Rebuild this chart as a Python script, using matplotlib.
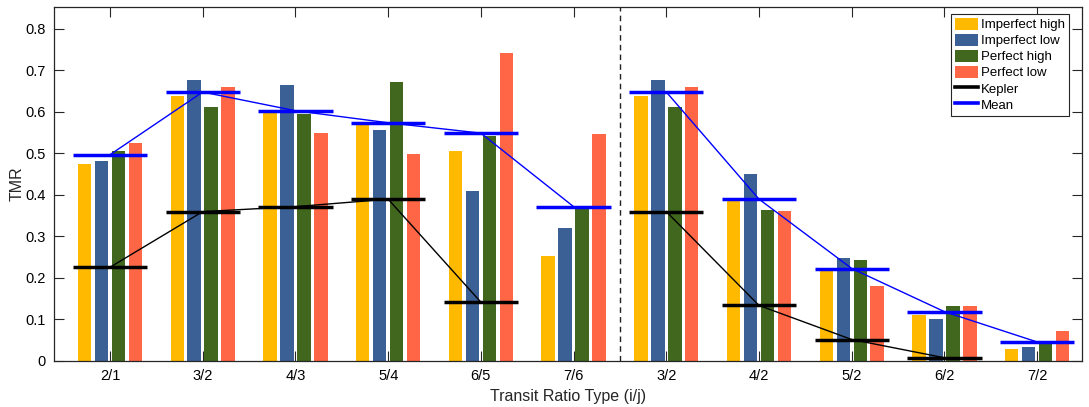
import numpy as np
import matplotlib
matplotlib.use("Agg")
from matplotlib import pyplot as plt
from matplotlib.patches import Patch
from matplotlib.lines import Line2D

plt.rcParams['font.family'] = ['Liberation Sans', 'DejaVu Sans']

# Data
ratio_labels = ['2/1', '3/2', '4/3', '5/4', '6/5', '7/6', '3/2', '4/2', '5/2', '6/2', '7/2']
imperfect_high = [0.473, 0.638, 0.598, 0.570, 0.504, 0.251, 0.638, 0.386, 0.217, 0.110, 0.027]
imperfect_low = [0.482, 0.676, 0.663, 0.555, 0.409, 0.320, 0.676, 0.449, 0.248, 0.101, 0.032]
perfect_high = [0.505, 0.612, 0.593, 0.670, 0.540, 0.370, 0.612, 0.363, 0.243, 0.131, 0.043]
perfect_low = [0.524, 0.659, 0.549, 0.498, 0.742, 0.545, 0.659, 0.361, 0.180, 0.132, 0.071]
mean_tmr = [0.496, 0.647, 0.602, 0.573, 0.548, 0.371, 0.647, 0.389, 0.222, 0.118, 0.045]
# Kepler values (None where no value is shown)
kepler_tmr = [0.225, 0.359, 0.371, 0.389, 0.141, None, 0.359, 0.133, 0.051, 0.007, None]

series_names = ['Imperfect high', 'Imperfect low', 'Perfect high', 'Perfect low']
series_colors = ['#FFBA00', '#3A6095', '#41661E', '#FF6645']

fig = plt.figure(figsize=(10.89, 4.07), dpi=100)
ax = fig.add_axes([0.0499, 0.1138, 0.9434, 0.8682])

x = np.arange(1, len(ratio_labels) + 1)
bar_pitch = 0.183
bar_width = 0.145
all_series = [imperfect_high, imperfect_low, perfect_high, perfect_low]
for j, (vals, col) in enumerate(zip(all_series, series_colors)):
    ax.bar(x + (j - 1.5) * bar_pitch, vals, width=bar_width, color=col,
           edgecolor='none', zorder=2)

# Mean and Kepler markers: short thick horizontal segments
seg_half = 0.4
mean_arr = np.array(mean_tmr)
ax.hlines(mean_arr, x - seg_half, x + seg_half, color='#0000FF', lw=2.5, zorder=4)
kx = np.array([xi for xi, k in zip(x, kepler_tmr) if k is not None])
ky = np.array([k for k in kepler_tmr if k is not None])
ax.hlines(ky, kx - seg_half, kx + seg_half, color='black', lw=2.5, zorder=4)

# Connectors, one per half of the chart
for lo, hi in [(1, 6), (7, 11)]:
    m = (x >= lo) & (x <= hi)
    ax.plot(x[m], mean_arr[m], color='#0000FF', lw=1.0, zorder=3)
    k = (kx >= lo) & (kx <= hi)
    ax.plot(kx[k], ky[k], color='black', lw=1.0, zorder=3)

ax.axvline(6.5, color='#222222', ls=(0, (4, 3)), lw=1.0, zorder=3)

ax.set_xlim(0.4, 11.48)
ax.set_ylim(0, 0.851)
ax.set_xticks(x)
ax.set_xticklabels(ratio_labels)
ax.set_yticks(np.arange(0, 0.81, 0.1))
ax.set_yticklabels(['0'] + ['%.1f' % v for v in np.arange(0.1, 0.81, 0.1)])
ax.tick_params(direction='in', length=7, width=0.8, color='#262626',
               top=True, right=True, labelsize=10.5, pad=6)
for sp in ax.spines.values():
    sp.set_color('#262626')
    sp.set_linewidth(0.9)

ax.set_xlabel('Transit Ratio Type (i/j)', fontsize=11.5, labelpad=4, color='#262626')
ax.set_ylabel('TMR', fontsize=11.5, labelpad=1, color='#262626')

handles = [Patch(facecolor=c, edgecolor='none') for c in series_colors]
handles += [Line2D([], [], color='black', lw=2.6), Line2D([], [], color='#0000FF', lw=2.6)]
labels = series_names + ['Kepler', 'Mean']
leg = ax.legend(handles, labels, loc='upper right', fontsize=9.5, fancybox=False,
                framealpha=1, edgecolor='#262626', handlelength=1.75, handleheight=1.0,
                handletextpad=0.2, labelspacing=0.2, borderpad=0.3,
                borderaxespad=0.5, bbox_to_anchor=(0.994, 1.0))
leg.get_frame().set_linewidth(0.8)
leg.set_zorder(5)

fig.savefig('out.png', dpi=100)
